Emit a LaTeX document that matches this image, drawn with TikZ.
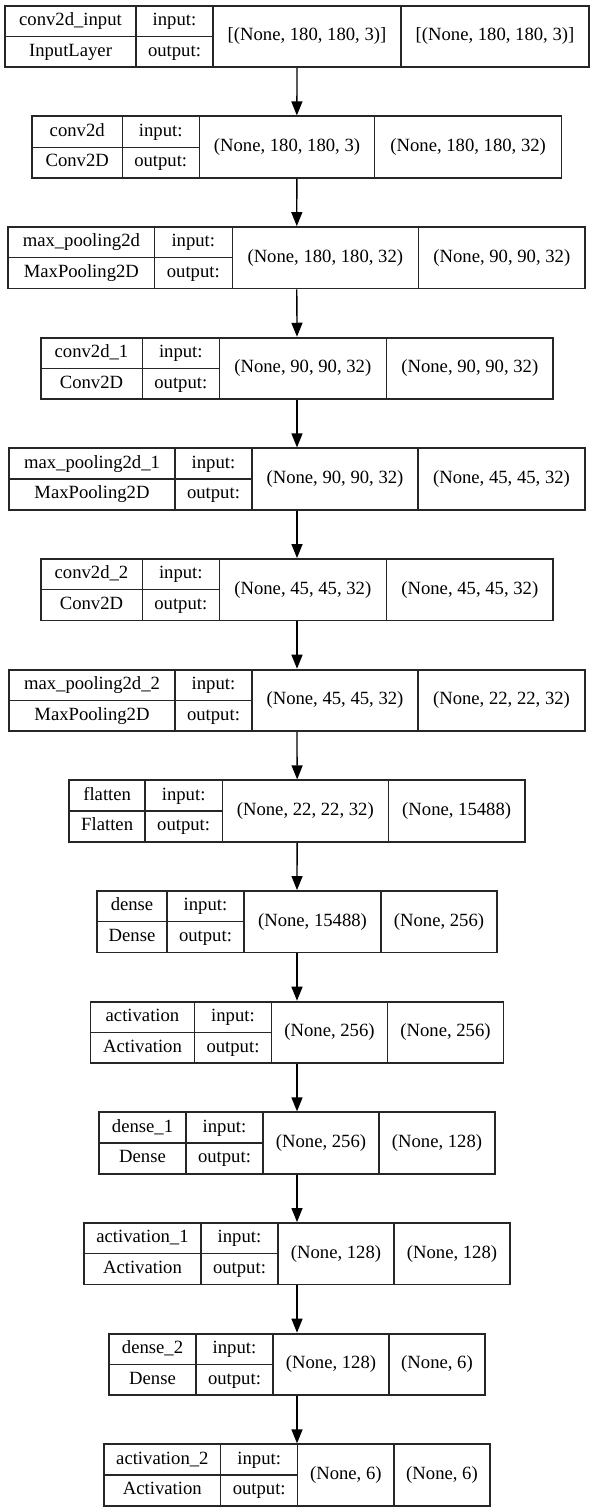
\documentclass[tikz,border=0pt]{standalone}
\usepackage{fontspec}
\setmainfont{Liberation Serif}
\usetikzlibrary{arrows.meta}

% one layer box: name, row, x positions of its five edges, texts
\def\splitedges#1,#2,#3,#4,#5\relax{\def\eA{#1}\def\eB{#2}\def\eC{#3}\def\eD{#4}\def\eE{#5}}
\newcommand{\layer}[7]{%
	\splitedges#3\relax
	\pgfmathsetmacro\ytop{5.7+110.66*(#2-1)}
	\pgfmathsetmacro\wA{(\eB-\eA)*0.75}
	\pgfmathsetmacro\wB{(\eC-\eB)*0.75}
	\pgfmathsetmacro\wC{(\eD-\eC)*0.75}
	\pgfmathsetmacro\wD{(\eE-\eD)*0.75}
	\pgfmathsetmacro\wAll{(\eE-\eA)*0.75}
	\node[cell, minimum width=\wA pt, minimum height=23.06pt] (#1-n) at ({(\eA+\eB)/2}, \ytop+15.375) {#4};
	\node[cell, minimum width=\wA pt, minimum height=23.06pt] (#1-c) at ({(\eA+\eB)/2}, \ytop+46.125) {#5};
	\node[cell, minimum width=\wB pt, minimum height=23.06pt] (#1-i) at ({(\eB+\eC)/2}, \ytop+15.375) {input:};
	\node[cell, minimum width=\wB pt, minimum height=23.06pt] (#1-o) at ({(\eB+\eC)/2}, \ytop+46.125) {output:};
	\node[cell, minimum width=\wC pt, minimum height=46.12pt] (#1-in) at ({(\eC+\eD)/2}, \ytop+30.75) {#6};
	\node[cell, minimum width=\wD pt, minimum height=46.12pt] (#1-out) at ({(\eD+\eE)/2}, \ytop+30.75) {#7};
	\node[layerbox, minimum width=\wAll pt, minimum height=46.12pt] (#1) at ({(\eA+\eE)/2}, \ytop+30.75) {};
}

\begin{document}
\begin{tikzpicture}[
		x=0.75pt, y=-0.75pt,
		cell/.style={draw=black!85, line width=0.9pt, inner sep=0pt, text height=9.5pt, text depth=3pt,
			font=\fontsize{14}{16}\selectfont},
		layerbox/.style={draw=black!85, line width=1.4pt, inner sep=0pt},
		flow/.style={-{Triangle[length=10.5pt, width=8.25pt]}, line width=1pt}
		]
	\useasboundingbox (0,0) rectangle (595,1512);

	% layers, top to bottom
	\layer{in1}{1}{5,136,213,401,589}{conv2d\_input}{InputLayer}{[(None, 180, 180, 3)]}{[(None, 180, 180, 3)]}
	\layer{conv1}{2}{32.2,122.2,199.2,374.8,561.5}{conv2d}{Conv2D}{(None, 180, 180, 3)}{(None, 180, 180, 32)}
	\layer{pool1}{3}{8.3,154.4,232.2,418.4,585.3}{max\_pooling2d}{MaxPooling2D}{(None, 180, 180, 32)}{(None, 90, 90, 32)}
	\layer{conv2}{4}{40.7,142.3,219.3,386.3,553.3}{conv2d\_1}{Conv2D}{(None, 90, 90, 32)}{(None, 90, 90, 32)}
	\layer{pool2}{5}{9,175,252,418,585}{max\_pooling2d\_1}{MaxPooling2D}{(None, 90, 90, 32)}{(None, 45, 45, 32)}
	\layer{conv3}{6}{40.7,142.3,219.3,386.3,553.3}{conv2d\_2}{Conv2D}{(None, 45, 45, 32)}{(None, 45, 45, 32)}
	\layer{pool3}{7}{9,175,252,418,585}{max\_pooling2d\_2}{MaxPooling2D}{(None, 45, 45, 32)}{(None, 22, 22, 32)}
	\layer{flat}{8}{69.3,145,222.3,388.3,525}{flatten}{Flatten}{(None, 22, 22, 32)}{(None, 15488)}
	\layer{dense1}{9}{97,167,244,381,497}{dense}{Dense}{(None, 15488)}{(None, 256)}
	\layer{act1}{10}{90.5,194.5,271.5,387.5,503.5}{activation}{Activation}{(None, 256)}{(None, 256)}
	\layer{dense2}{11}{99,186,263,379,495}{dense\_1}{Dense}{(None, 256)}{(None, 128)}
	\layer{act2}{12}{84,201,278,394,510}{activation\_1}{Activation}{(None, 128)}{(None, 128)}
	\layer{dense3}{13}{109,196,273,389,485}{dense\_2}{Dense}{(None, 128)}{(None, 6)}
	\layer{act3}{14}{104,220.7,297.7,394,490}{activation\_2}{Activation}{(None, 6)}{(None, 6)}

	% arrows
	\draw[flow] (in1.south) -- (conv1.north);
	\draw[flow] (conv1.south) -- (pool1.north);
	\draw[flow] (pool1.south) -- (conv2.north);
	\draw[flow] (conv2.south) -- (pool2.north);
	\draw[flow] (pool2.south) -- (conv3.north);
	\draw[flow] (conv3.south) -- (pool3.north);
	\draw[flow] (pool3.south) -- (flat.north);
	\draw[flow] (flat.south) -- (dense1.north);
	\draw[flow] (dense1.south) -- (act1.north);
	\draw[flow] (act1.south) -- (dense2.north);
	\draw[flow] (dense2.south) -- (act2.north);
	\draw[flow] (act2.south) -- (dense3.north);
	\draw[flow] (dense3.south) -- (act3.north);
\end{tikzpicture}
\end{document}
